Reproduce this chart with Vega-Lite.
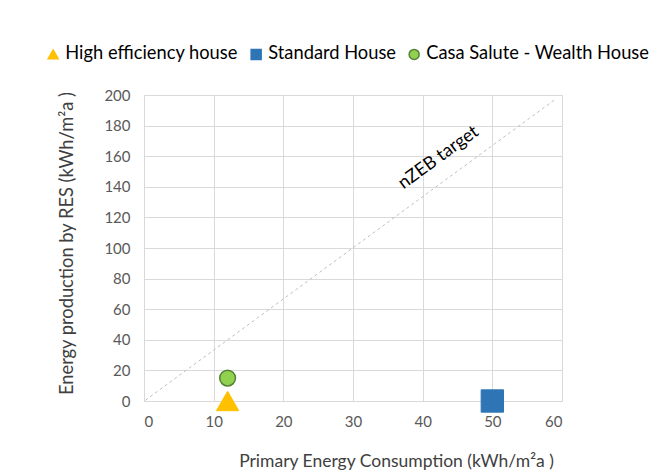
{
  "$schema": "https://vega.github.io/schema/vega-lite/v6.json",
  "width": 418,
  "height": 306,
  "autosize": {"type": "none"},
  "padding": {"left": 144, "top": 95, "right": 100, "bottom": 72},
  "background": "white",
  "datasets": {
    "houses": [
      {"x": 12, "y": 0, "series": "High efficiency house"},
      {"x": 50, "y": 0, "series": "Standard House"},
      {"x": 12, "y": 15, "series": "Casa Salute - Wealth House"}
    ],
    "target": [{"x": 0.2, "y": 0.5}, {"x": 59.1, "y": 197.4}],
    "note": [{"x": 42.3, "y": 159, "label": "nZEB target"}]
  },
  "config": {
    "font": "Lato",
    "view": {"stroke": "#D9D9D9"},
    "axis": {
      "gridColor": "#D9D9D9",
      "domain": false,
      "ticks": false,
      "labelFontSize": 15,
      "labelColor": "#595959",
      "titleFontWeight": "normal",
      "titleColor": "#404040"
    },
    "legend": {
      "orient": "none",
      "direction": "horizontal",
      "legendX": -100,
      "legendY": -50,
      "labelFontSize": 18.3,
      "labelLimit": 0,
      "labelColor": "#000000",
      "symbolSize": 100,
      "symbolStrokeWidth": 1.5,
      "columnPadding": 9,
      "labelOffset": 3
    }
  },
  "encoding": {
    "x": {
      "field": "x", "type": "quantitative",
      "scale": {"domain": [0, 60], "nice": false},
      "axis": {"values": [0, 10, 20, 30, 40, 50, 60], "labelPadding": 13, "title": "Primary Energy Consumption (kWh/m²a )", "titleFontSize": 17.5, "titleX": 252, "titleY": 60, "titleBaseline": "middle"}
    },
    "y": {
      "field": "y", "type": "quantitative",
      "scale": {"domain": [0, 200], "nice": false},
      "axis": {"values": [0, 20, 40, 60, 80, 100, 120, 140, 160, 180, 200], "labelPadding": 14, "title": "Energy production by RES (kWh/m²a )", "titleFontSize": 18.3, "titleX": -77, "titleY": 148, "titleBaseline": "middle", "titleAngle": -90}
    }
  },
  "layer": [
    {
      "data": {"name": "target"},
      "mark": {"type": "line", "strokeDash": [3, 3], "color": "#BFBFBF", "strokeWidth": 1},
      "encoding": {}
    },
    {
      "data": {"name": "note"},
      "mark": {"type": "text", "angle": -36, "align": "center", "baseline": "middle", "fontSize": 18, "color": "#000000"},
      "encoding": {"text": {"field": "label"}}
    },
    {
      "data": {"name": "houses"},
      "transform": [{"filter": "datum.series !== 'Casa Salute - Wealth House'"}],
      "mark": {"type": "point", "filled": true, "opacity": 1, "strokeWidth": 1, "size": 500},
      "encoding": {
        "shape": {"field": "series", "type": "nominal",
          "scale": {"domain": ["High efficiency house", "Standard House", "Casa Salute - Wealth House"], "range": ["triangle-up", "square", "circle"]},
          "legend": {"title": null}
        },
        "color": {"field": "series", "type": "nominal",
          "scale": {"domain": ["High efficiency house", "Standard House", "Casa Salute - Wealth House"], "range": ["#FFC000", "#2E75B6", "#92D050"]},
          "legend": {"title": null}
        },
        "stroke": {"field": "series", "type": "nominal",
          "scale": {"domain": ["High efficiency house", "Standard House", "Casa Salute - Wealth House"], "range": ["#FFC000", "#2E75B6", "#548235"]},
          "legend": {"title": null}
        }
      }
    },
    {
      "data": {"name": "houses"},
      "transform": [{"filter": "datum.series === 'Casa Salute - Wealth House'"}],
      "mark": {"type": "point", "filled": true, "opacity": 1, "strokeWidth": 1.5, "size": 250},
      "encoding": {
        "shape": {"field": "series", "type": "nominal", "legend": {"title": null}},
        "color": {"field": "series", "type": "nominal", "legend": {"title": null}},
        "stroke": {"field": "series", "type": "nominal", "legend": {"title": null}}
      }
    }
  ]
}
